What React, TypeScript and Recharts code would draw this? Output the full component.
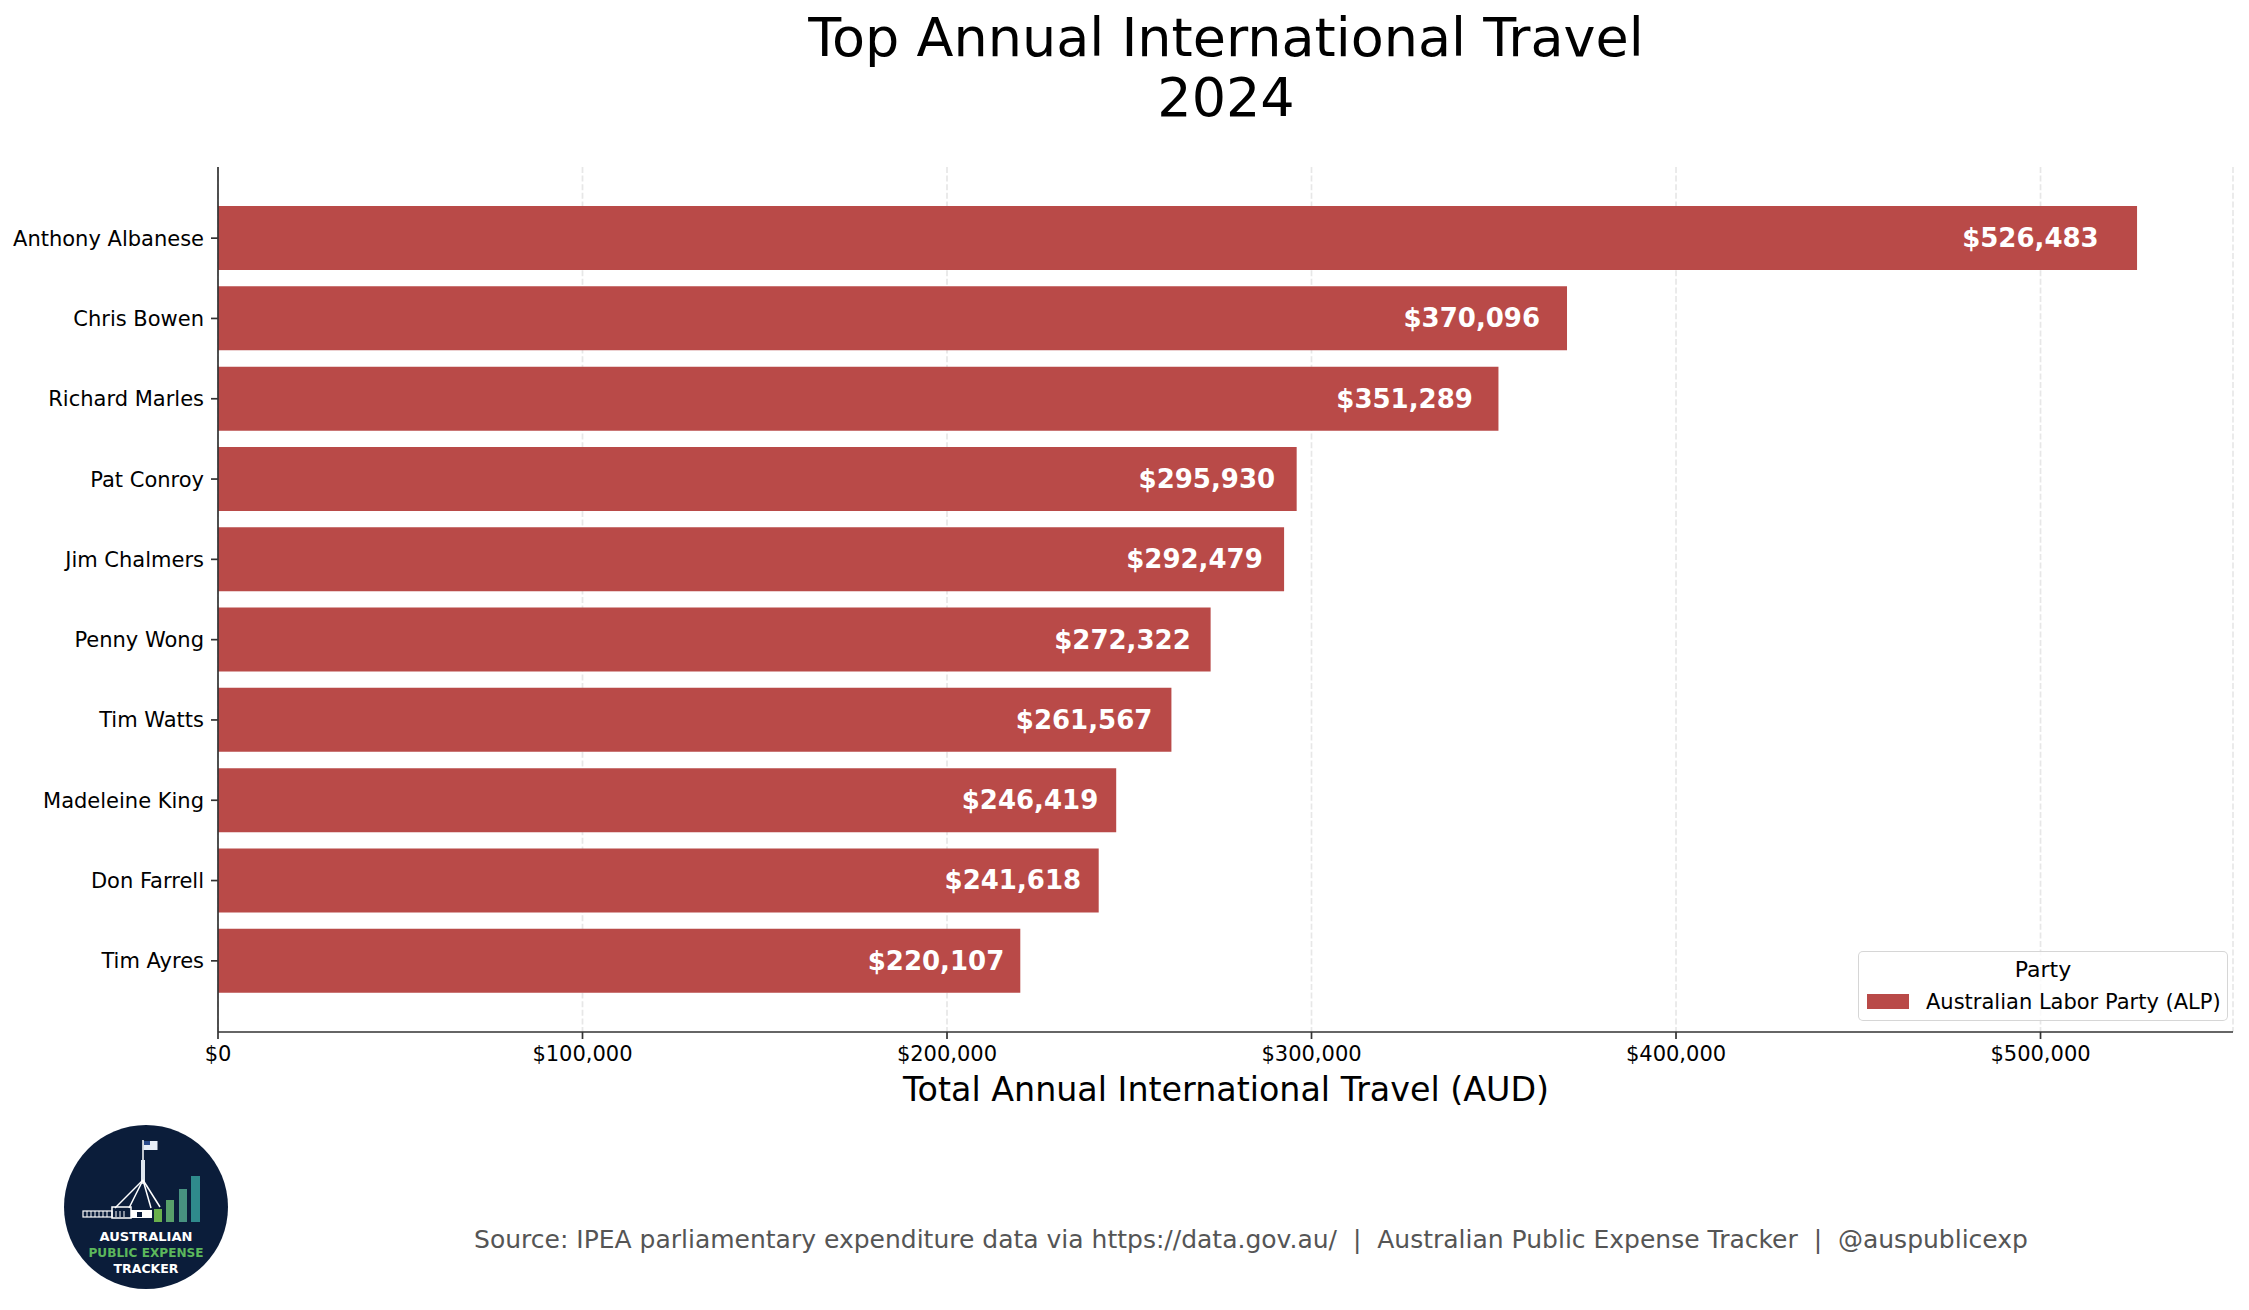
import { Bar, BarChart, CartesianGrid, LabelList, Legend, XAxis, YAxis } from "recharts";

const members = [
  "Anthony Albanese",
  "Chris Bowen",
  "Richard Marles",
  "Pat Conroy",
  "Jim Chalmers",
  "Penny Wong",
  "Tim Watts",
  "Madeleine King",
  "Don Farrell",
  "Tim Ayres",
];
const totals = [526483, 370096, 351289, 295930, 292479, 272322, 261567, 246419, 241618, 220107];
const xTicks = [0, 100000, 200000, 300000, 400000, 500000];
const partyName = "Australian Labor Party (ALP)";

const data = members.map((name, i) => ({ name, total: totals[i] }));

const FONT = "'DejaVu Sans', sans-serif";
const BAR = "#b94a48";
const money = (v: number) => "$" + v.toLocaleString("en-US");

function ValueLabel(props: any) {
  const { x, y, width, height, value } = props;
  return (
    <text
      x={Number(x) + Number(width) * 0.98}
      y={Number(y) + Number(height) / 2}
      textAnchor="end"
      dominantBaseline="central"
      fill="#fff"
      fontWeight="bold"
      fontSize={26}
      fontFamily={FONT}
    >
      {money(value)}
    </text>
  );
}

function PartyLegend() {
  return (
    <div
      style={{
        position: "relative",
        width: 370,
        height: 70,
        boxSizing: "border-box",
        border: "1.5px solid rgba(204,204,204,0.8)",
        borderRadius: 5,
        background: "rgba(255,255,255,0.8)",
        fontFamily: FONT,
        color: "#000",
      }}
    >
      <div style={{ position: "absolute", left: 0, right: 0, top: 5, textAlign: "center", fontSize: 22, lineHeight: "26px" }}>
        Party
      </div>
      <div style={{ position: "absolute", left: 8, top: 42, width: 42, height: 15, background: BAR }} />
      <div style={{ position: "absolute", left: 67, top: 38, fontSize: 21, lineHeight: "25px", whiteSpace: "nowrap" }}>
        {partyName}
      </div>
    </div>
  );
}

function Logo() {
  return (
    <g>
      <circle cx={146} cy={1207} r={82} fill="#0b1d3a" />
      {/* flag + pole */}
      <line x1={143} y1={1140} x2={143} y2={1184} stroke="#fff" strokeWidth={1.5} />
      <rect x={143.5} y={1141} width={14} height={9} fill="#e8eef8" />
      <rect x={144} y={1141} width={6} height={4} fill="#2a4a8a" />
      <rect x={141} y={1160} width={4} height={22} fill="#dfe6ee" />
      <line x1={143} y1={1180} x2={115} y2={1208} stroke="#fff" strokeWidth={1.5} />
      <line x1={143} y1={1180} x2={129} y2={1208} stroke="#fff" strokeWidth={1.5} />
      <line x1={143} y1={1180} x2={151} y2={1208} stroke="#fff" strokeWidth={1.5} />
      <line x1={143} y1={1180} x2={160} y2={1207} stroke="#fff" strokeWidth={1.5} />
      {/* building */}
      <rect x={83} y={1211} width={29} height={6} fill="none" stroke="#fff" strokeWidth={1.2} />
      <rect x={112} y={1207} width={19} height={11} fill="none" stroke="#fff" strokeWidth={1.5} />
      <rect x={131} y={1210} width={21} height={8} fill="#fff" />
      <rect x={137} y={1212} width={5} height={5} fill="#0b1d3a" />
      {[87, 91, 95, 99, 103, 107, 116, 120, 124].map((cx) => (
        <line key={cx} x1={cx} y1={1211} x2={cx} y2={1217} stroke="#fff" strokeWidth={1} />
      ))}
      {/* bars */}
      <rect x={154} y={1209} width={8} height={13} fill="#6ab04c" />
      <rect x={166} y={1200} width={8} height={22} fill="#58a06a" />
      <rect x={179} y={1189} width={8} height={33} fill="#479280" />
      <rect x={191} y={1176} width={9} height={46} fill="#2f8a8c" />
      <text x={146} y={1241} textAnchor="middle" fill="#fff" fontWeight="bold" fontSize={13} fontFamily={FONT} textLength={93} lengthAdjust="spacingAndGlyphs">
        AUSTRALIAN
      </text>
      <text x={146} y={1257} textAnchor="middle" fill="#5cb85c" fontWeight="bold" fontSize={13} fontFamily={FONT} textLength={115} lengthAdjust="spacingAndGlyphs">
        PUBLIC EXPENSE
      </text>
      <text x={146} y={1273} textAnchor="middle" fill="#fff" fontWeight="bold" fontSize={13} fontFamily={FONT} textLength={65} lengthAdjust="spacingAndGlyphs">
        TRACKER
      </text>
    </g>
  );
}

export default function App() {
  const maxX = Math.max(...totals) * 1.05;
  return (
    <div style={{ position: "absolute", left: 0, top: 0, width: 2249, height: 1310, background: "#fff", fontFamily: FONT }}>
      <BarChart
        width={2249}
        height={1310}
        data={data}
        layout="vertical"
        barCategoryGap="10%"
        margin={{ top: 167, right: 16, bottom: 228, left: 0 }}
      >
        <XAxis
          type="number"
          domain={[0, maxX]}
          ticks={xTicks}
          tickFormatter={money}
          height={50}
          axisLine={{ stroke: "#333", strokeWidth: 1.7 }}
          tickLine={{ stroke: "#333", strokeWidth: 1.7 }}
          tickSize={7}
          tickMargin={7}
          tick={{ fill: "#000", fontSize: 21, fontFamily: FONT }}
          allowDataOverflow
        />
        <YAxis
          type="category"
          dataKey="name"
          width={218}
          padding={{ top: 31, bottom: 31 }}
          axisLine={{ stroke: "#333", strokeWidth: 1.7 }}
          tickLine={{ stroke: "#333", strokeWidth: 1.7 }}
          tickSize={7}
          tickMargin={7}
          tick={{ fill: "#000", fontSize: 21, fontFamily: FONT }}
          interval={0}
        />
        <Bar dataKey="total" name={partyName} fill={BAR} isAnimationActive={false}>
          <LabelList dataKey="total" content={ValueLabel} />
        </Bar>
        <CartesianGrid
          horizontal={false}
          stroke="#b0b0b0"
          strokeOpacity={0.3}
          strokeWidth={1.7}
          strokeDasharray="6 2.6"
        />
        <Legend
          layout="vertical"
          align="center"
          verticalAlign="middle"
          wrapperStyle={{ left: 1858, top: 951, width: 370, height: 70 }}
          content={() => <PartyLegend />}
        />
      </BarChart>
      <svg
        width={2249}
        height={1310}
        style={{ position: "absolute", left: 0, top: 0, pointerEvents: "none" }}
      >
        <text x={1226} y={56} textAnchor="middle" fontSize={54} fontFamily={FONT} fill="#000">
          Top Annual International Travel
        </text>
        <text x={1226} y={116} textAnchor="middle" fontSize={54} fontFamily={FONT} fill="#000">
          2024
        </text>
        <text x={1226} y={1101} textAnchor="middle" fontSize={33.3} fontFamily={FONT} fill="#000">
          Total Annual International Travel (AUD)
        </text>
        <text x={1251} y={1248} textAnchor="middle" fontSize={25} fontFamily={FONT} fill="#555" xmlSpace="preserve">
          Source: IPEA parliamentary expenditure data via https://data.gov.au/  |  Australian Public Expense Tracker  |  @auspublicexp
        </text>
        <Logo />
      </svg>
    </div>
  );
}
